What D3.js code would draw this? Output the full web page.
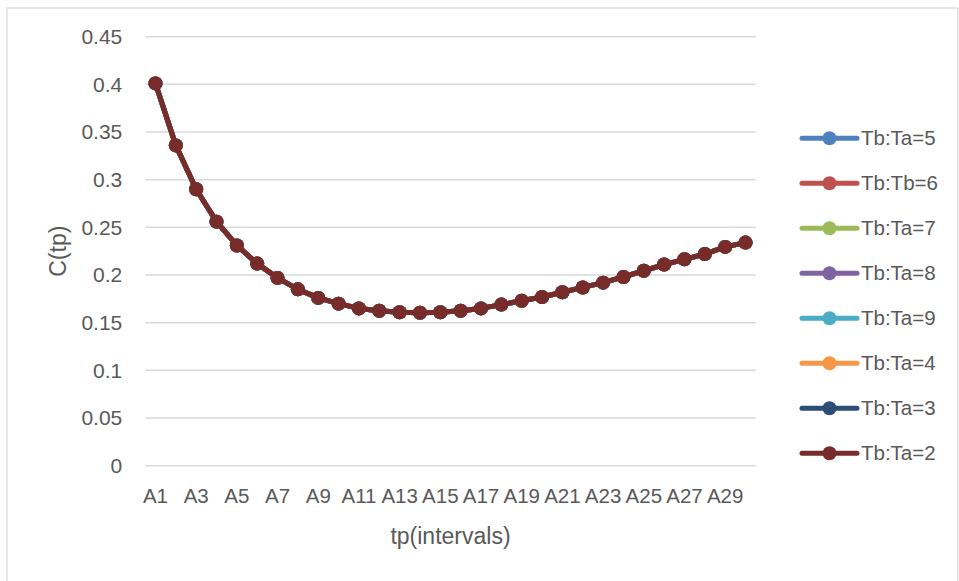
<!DOCTYPE html>
<html>
<head>
<meta charset="utf-8">
<script src="https://cdn.jsdelivr.net/npm/d3@7/dist/d3.min.js"></script>
<style>
  html, body { margin: 0; padding: 0; background: #ffffff; }
  svg { display: block; font-family: "Liberation Sans", Arial, sans-serif; }
</style>
</head>
<body>
<svg id="chart" width="959" height="581"></svg>
<script>
// Intervals A1..A30
const categories = d3.range(1, 31).map(i => "A" + i);

// C(tp) per interval
const ctp = [0.401, 0.336, 0.290, 0.256, 0.231, 0.212, 0.197, 0.185, 0.176, 0.170,
             0.165, 0.1625, 0.161, 0.1605, 0.161, 0.1625, 0.165, 0.169, 0.173, 0.177,
             0.182, 0.187, 0.192, 0.198, 0.2045, 0.211, 0.2165, 0.222, 0.2295, 0.234];

// Series (ratios); the curves coincide, so the last one drawn shows on top
const seriesNames = ["Tb:Ta=5", "Tb:Tb=6", "Tb:Ta=7", "Tb:Ta=8", "Tb:Ta=9", "Tb:Ta=4", "Tb:Ta=3", "Tb:Ta=2"];
const seriesColors = ["#4F81BD", "#C0504D", "#9BBB59", "#8064A2", "#4BACC6", "#F79646", "#2C4D75", "#772C2A"];
const seriesValues = seriesNames.map(() => ctp);

const yTicks = [0, 0.05, 0.1, 0.15, 0.2, 0.25, 0.3, 0.35, 0.4, 0.45];
const xTickLabels = categories.filter((d, i) => i % 2 === 0);

const svg = d3.select("#chart");
const plot = { left: 145.3, right: 755.7, top: 36.7, bottom: 465.7 };
const textColor = "#595959";

// Outer chart border
svg.append("rect")
  .attr("x", 7).attr("y", 8).attr("width", 951).attr("height", 590)
  .attr("fill", "none").attr("stroke", "#d9d9d9").attr("stroke-width", 1.2);

const x = d3.scaleBand().domain(categories).range([plot.left, plot.right]);
const y = d3.scaleLinear().domain([0, 0.45]).range([plot.bottom, plot.top]);

// Horizontal gridlines
svg.append("g")
  .selectAll("line")
  .data(yTicks)
  .join("line")
  .attr("x1", plot.left).attr("x2", plot.right)
  .attr("y1", d => y(d)).attr("y2", d => y(d))
  .attr("stroke", "#d9d9d9").attr("stroke-width", 1.5);

// Y axis labels
const yAxis = svg.append("g")
  .attr("transform", `translate(${plot.left - 23},0)`)
  .call(d3.axisLeft(y).tickValues(yTicks).tickSize(0).tickPadding(0).tickFormat(d => String(+d.toFixed(2))));
yAxis.select(".domain").remove();
yAxis.selectAll("text")
  .attr("fill", textColor).style("font-size", "21px")
  .attr("font-family", "'Liberation Sans', Arial, sans-serif");

// X axis labels
const xAxis = svg.append("g")
  .attr("transform", `translate(0,${plot.bottom + 23})`)
  .call(d3.axisBottom(x).tickValues(xTickLabels).tickSize(0).tickPadding(0));
xAxis.select(".domain").remove();
xAxis.selectAll("text")
  .attr("fill", textColor).style("font-size", "20.5px")
  .attr("font-family", "'Liberation Sans', Arial, sans-serif");

// Axis titles
svg.append("text")
  .attr("x", (plot.left + plot.right) / 2).attr("y", 544)
  .attr("text-anchor", "middle").attr("fill", textColor).style("font-size", "23px")
  .text("tp(intervals)");
svg.append("text")
  .attr("transform", `translate(66,${(plot.top + plot.bottom) / 2}) rotate(-90)`)
  .attr("text-anchor", "middle").attr("fill", textColor).style("font-size", "23px")
  .text("C(tp)");

// Series lines and markers
const line = d3.line()
  .x((d, i) => x(categories[i]) + x.bandwidth() / 2)
  .y(d => y(d));

seriesNames.forEach((name, s) => {
  const g = svg.append("g");
  g.append("path")
    .datum(seriesValues[s])
    .attr("d", line)
    .attr("fill", "none")
    .attr("stroke", seriesColors[s])
    .attr("stroke-width", 5)
    .attr("stroke-linejoin", "round")
    .attr("stroke-linecap", "round");
  g.selectAll("circle")
    .data(seriesValues[s])
    .join("circle")
    .attr("cx", (d, i) => x(categories[i]) + x.bandwidth() / 2)
    .attr("cy", d => y(d))
    .attr("r", 7)
    .attr("fill", seriesColors[s]);
});

// Legend
const legend = svg.append("g");
seriesNames.forEach((name, s) => {
  const ly = 138.3 + s * 45;
  legend.append("line")
    .attr("x1", 802).attr("x2", 857).attr("y1", ly).attr("y2", ly)
    .attr("stroke", seriesColors[s]).attr("stroke-width", 5).attr("stroke-linecap", "round");
  legend.append("circle")
    .attr("cx", 829.5).attr("cy", ly).attr("r", 7).attr("fill", seriesColors[s]);
  legend.append("text")
    .attr("x", 861).attr("y", ly).attr("dy", "0.35em")
    .attr("fill", textColor).style("font-size", "20.5px")
    .text(name);
});
</script>
</body>
</html>
